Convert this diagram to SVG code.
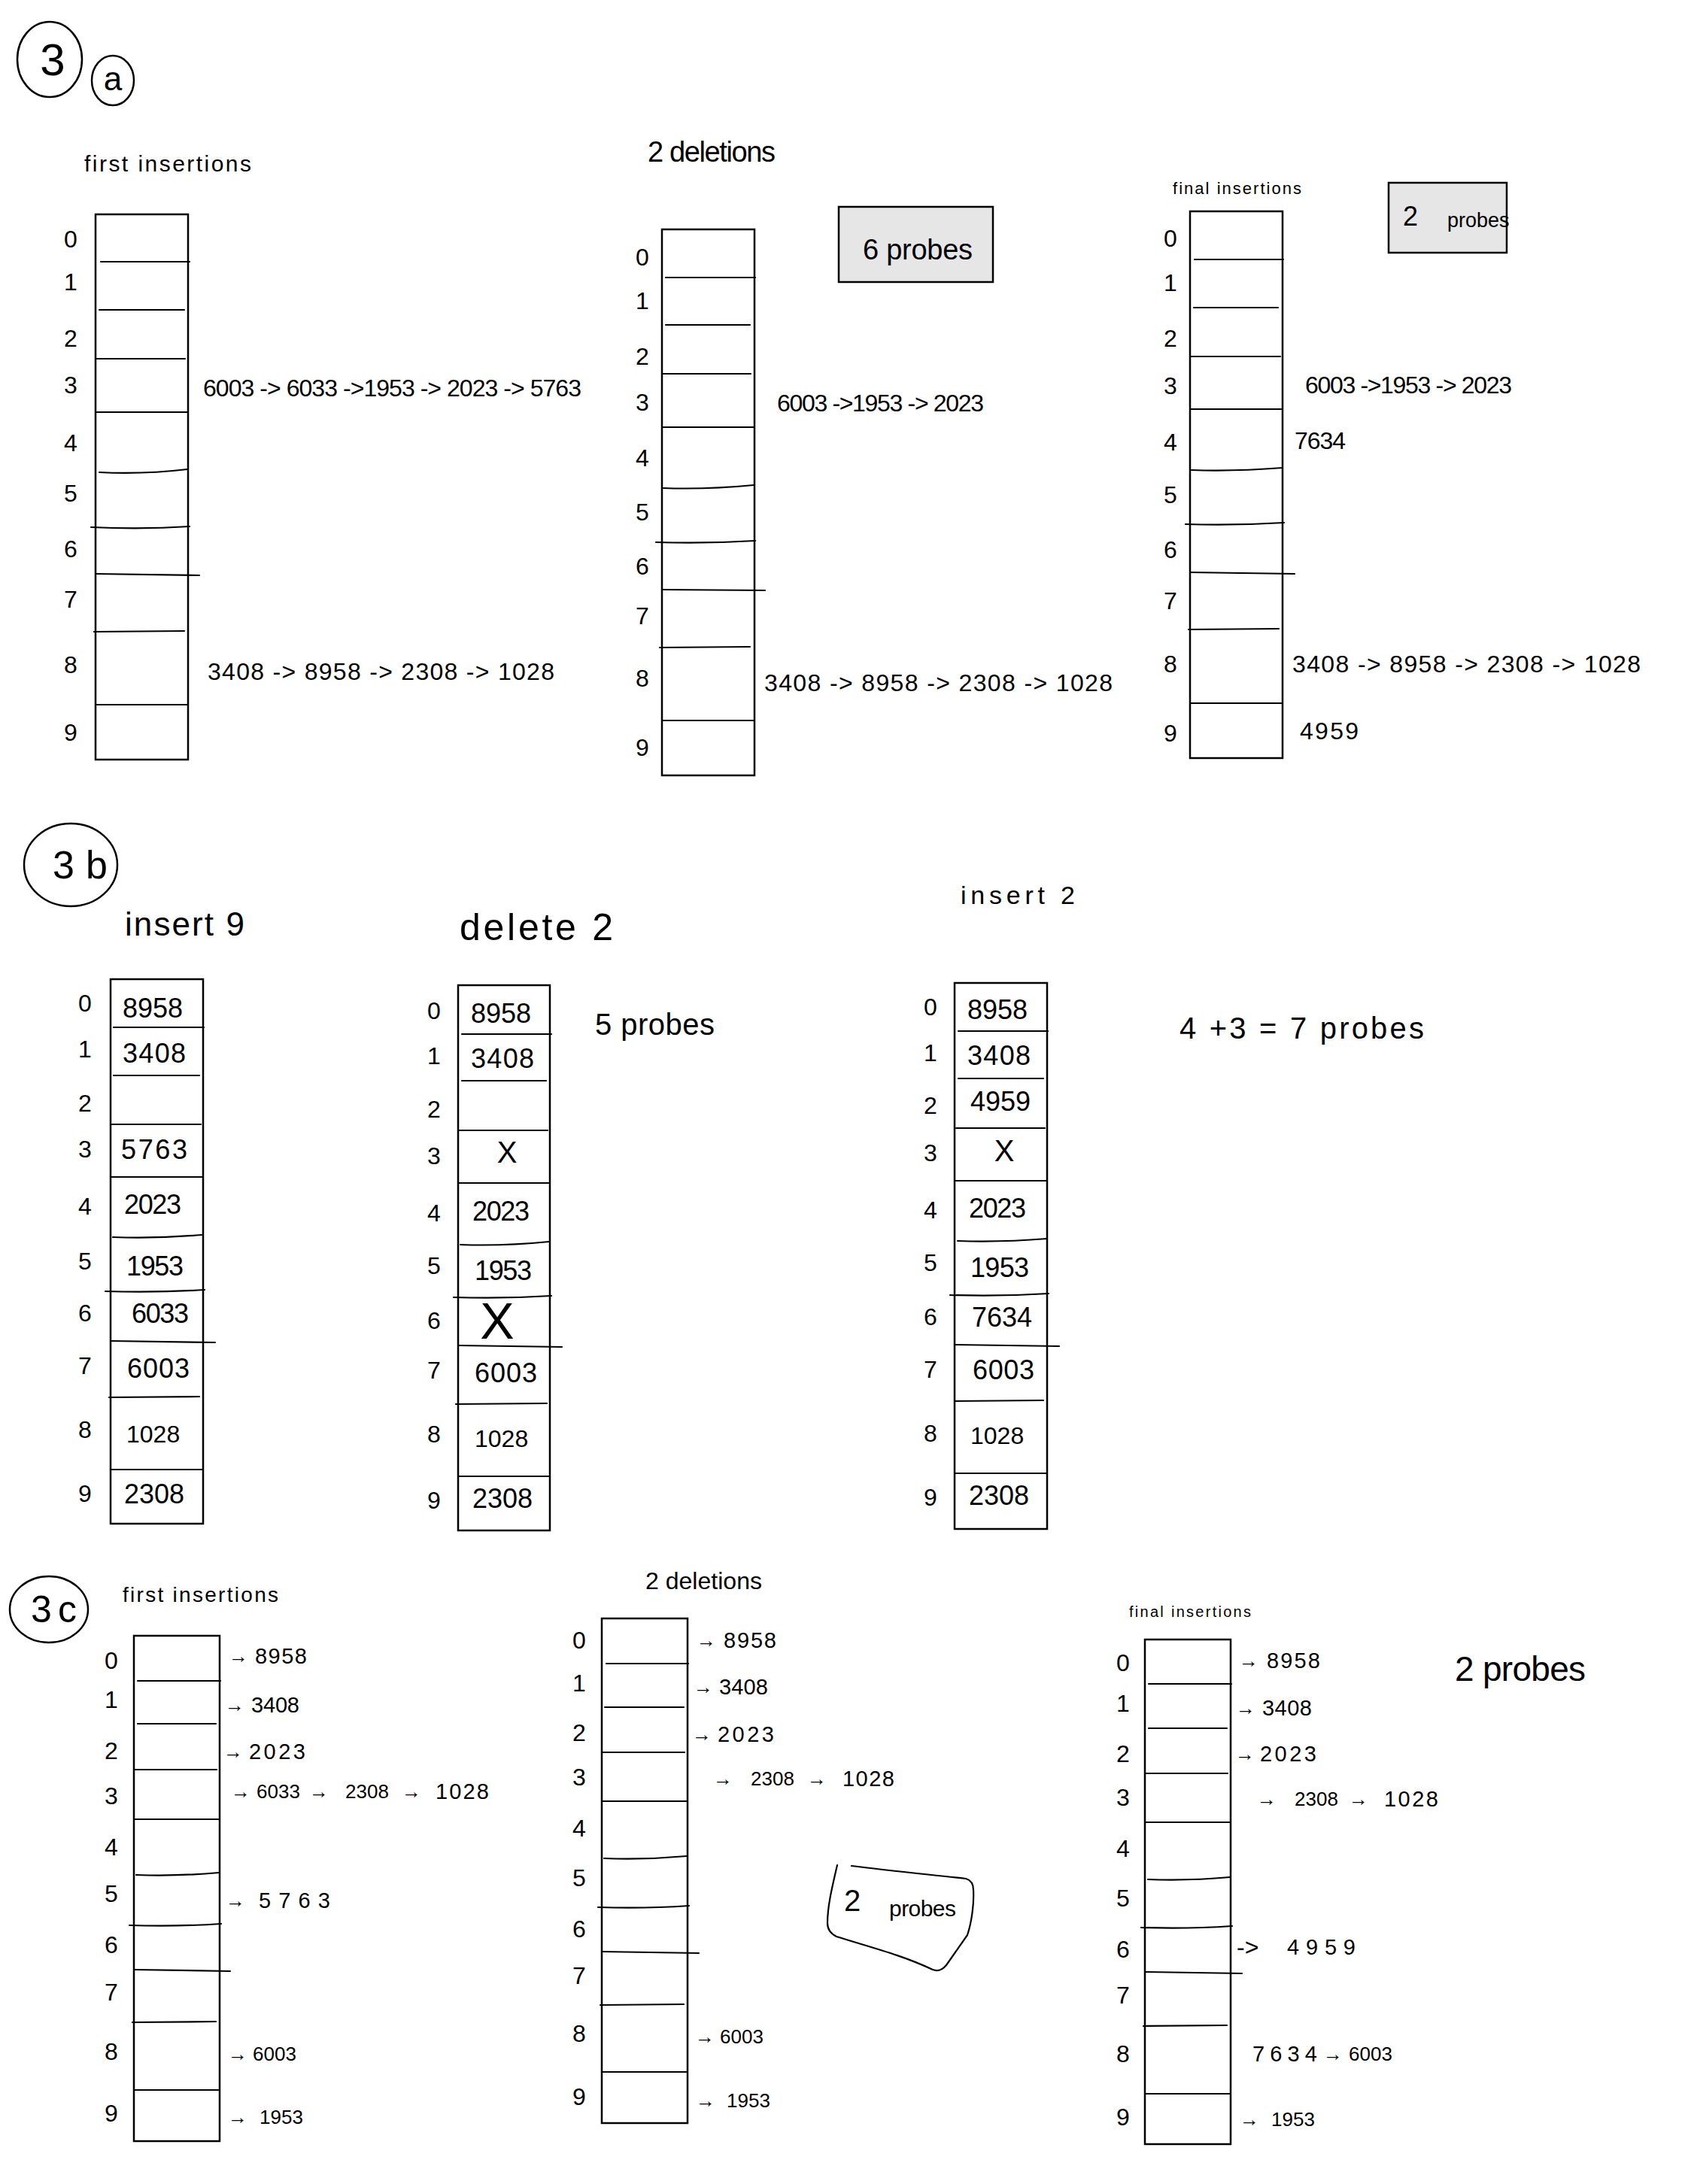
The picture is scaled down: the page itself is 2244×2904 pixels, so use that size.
<svg xmlns="http://www.w3.org/2000/svg" width="2244" height="2904" viewBox="0 0 2244 2904">
<style>
text { font-family: "Liberation Sans", Arial, sans-serif; fill: #000; }
.i { font-size: 32px; text-anchor: middle; dominant-baseline: central; }
.v { font-size: 36px; dominant-baseline: central; }
.c { font-size: 32px; dominant-baseline: central; }
.x { font-size: 40px; text-anchor: middle; dominant-baseline: central; }
.ar { font-size: 26px; text-anchor: middle; dominant-baseline: central; }
.n { font-size: 29px; dominant-baseline: central; }
.ns { font-size: 26px; dominant-baseline: central; }
.tb { fill: none; stroke: #000; stroke-width: 2.5; }
.l { fill: none; stroke: #000; stroke-width: 2.2; stroke-linecap: round; }
.box { fill: #e6e6e6; stroke: #000; stroke-width: 2.5; }
.circ { fill: none; stroke: #000; stroke-width: 2.5; }
</style>
<rect x="0" y="0" width="2244" height="2904" fill="#fff"/>

<!-- ===== Section 3a ===== -->
<g id="label-3a">
  <ellipse class="circ" cx="66" cy="79" rx="43" ry="50"/>
  <text x="70" y="79" font-size="60" text-anchor="middle" dominant-baseline="central">3</text>
  <ellipse class="circ" cx="150" cy="107" rx="28" ry="33"/>
  <text x="150" y="104" font-size="44" text-anchor="middle" dominant-baseline="central">a</text>
</g>

<g id="a1">
  <text x="112" y="228" font-size="30" textLength="222">first insertions</text>
  <rect class="tb" x="127" y="285" width="123" height="725"/>
  <path class="l" d="M134 348H252M132 412H245M128 477H246M127 548H250M132 628Q190 631 249 624M121 701Q190 704 252 700M128 763L265 765M125 840L245 839M127 937H250"/>
  <text class="i" x="94" y="318">0</text><text class="i" x="94" y="375">1</text><text class="i" x="94" y="450">2</text><text class="i" x="94" y="512">3</text><text class="i" x="94" y="589">4</text><text class="i" x="94" y="656">5</text><text class="i" x="94" y="730">6</text><text class="i" x="94" y="797">7</text><text class="i" x="94" y="884">8</text><text class="i" x="94" y="974">9</text>
  <text class="c" x="270" y="516" textLength="503">6003 -&gt; 6033 -&gt;1953 -&gt; 2023 -&gt; 5763</text>
  <text class="c" x="276" y="893" textLength="461">3408 -&gt; 8958 -&gt; 2308 -&gt; 1028</text>
</g>

<g id="a2">
  <text x="861" y="215" font-size="38" textLength="170">2 deletions</text>
  <rect class="tb" x="880" y="305" width="123" height="726"/>
  <path class="l" d="M885 369H1004M885 432H997M880 497H998M880 568H1003M882 649Q940 651 1002 645M872 721Q940 723 1004 719M880 784L1017 785M877 861L997 860M880 958H1003"/>
  <text class="i" x="854" y="342">0</text><text class="i" x="854" y="400">1</text><text class="i" x="854" y="474">2</text><text class="i" x="854" y="535">3</text><text class="i" x="854" y="609">4</text><text class="i" x="854" y="681">5</text><text class="i" x="854" y="753">6</text><text class="i" x="854" y="819">7</text><text class="i" x="854" y="902">8</text><text class="i" x="854" y="994">9</text>
  <text class="c" x="1033" y="536" textLength="275">6003 -&gt;1953 -&gt; 2023</text>
  <text class="c" x="1016" y="908" textLength="463">3408 -&gt; 8958 -&gt; 2308 -&gt; 1028</text>
</g>
<g id="a2-probes">
  <rect class="box" x="1115" y="275" width="205" height="100"/>
  <text x="1147" y="332" font-size="38" dominant-baseline="central" textLength="146">6 probes</text>
</g>

<g id="a3">
  <text x="1559" y="258" font-size="22" textLength="171">final insertions</text>
  <rect class="tb" x="1582" y="281" width="123" height="727"/>
  <path class="l" d="M1588 345H1706M1587 409H1699M1583 474H1702M1582 544H1705M1584 625Q1640 627 1705 622M1576 697Q1640 699 1707 695M1583 761L1721 763M1580 837L1700 836M1582 935H1705"/>
  <text class="i" x="1556" y="317">0</text><text class="i" x="1556" y="376">1</text><text class="i" x="1556" y="450">2</text><text class="i" x="1556" y="513">3</text><text class="i" x="1556" y="588">4</text><text class="i" x="1556" y="658">5</text><text class="i" x="1556" y="731">6</text><text class="i" x="1556" y="799">7</text><text class="i" x="1556" y="883">8</text><text class="i" x="1556" y="975">9</text>
  <text class="c" x="1735" y="512" textLength="275">6003 -&gt;1953 -&gt; 2023</text>
  <text class="c" x="1721" y="586" textLength="68">7634</text>
  <text class="c" x="1718" y="883" textLength="463">3408 -&gt; 8958 -&gt; 2308 -&gt; 1028</text>
  <text class="c" x="1728" y="972" textLength="78">4959</text>
</g>
<g id="a3-probes">
  <rect class="box" x="1846" y="243" width="157" height="93"/>
  <text x="1875" y="287" font-size="36" text-anchor="middle" dominant-baseline="central">2</text>
  <text x="1924" y="293" font-size="27" dominant-baseline="central">probes</text>
</g>

<!-- ===== Section 3b ===== -->
<g id="label-3b">
  <ellipse class="circ" cx="94" cy="1150" rx="62" ry="55"/>
  <text x="70" y="1150" font-size="52" dominant-baseline="central" textLength="73">3b</text>
</g>

<g id="b1">
  <text x="166" y="1244" font-size="44" textLength="159">insert 9</text>
  <rect class="tb" x="147" y="1302" width="123" height="724"/>
  <path class="l" d="M151 1366H271M151 1430H265M147 1495H267M147 1565H270M150 1645Q210 1647 268 1642M140 1717Q210 1719 272 1715M147 1783L286 1785M145 1858L265 1857M147 1954H270"/>
  <text class="i" x="113" y="1334">0</text><text class="i" x="113" y="1395">1</text><text class="i" x="113" y="1467">2</text><text class="i" x="113" y="1528">3</text><text class="i" x="113" y="1604">4</text><text class="i" x="113" y="1677">5</text><text class="i" x="113" y="1746">6</text><text class="i" x="113" y="1816">7</text><text class="i" x="113" y="1901">8</text><text class="i" x="113" y="1986">9</text>
  <text class="v" x="163" y="1340" textLength="80">8958</text>
  <text class="v" x="163" y="1400" textLength="84">3408</text>
  <text class="v" x="161" y="1528" textLength="88">5763</text>
  <text class="v" x="165" y="1601" textLength="76">2023</text>
  <text class="v" x="168" y="1683" textLength="76">1953</text>
  <text class="v" x="175" y="1746" textLength="76">6033</text>
  <text class="v" x="169" y="1819" textLength="83">6003</text>
  <text x="168" y="1907" font-size="32" dominant-baseline="central">1028</text>
  <text class="v" x="165" y="1986" textLength="80">2308</text>
</g>

<g id="b2">
  <text x="611" y="1250" font-size="50" textLength="204">delete 2</text>
  <rect class="tb" x="609" y="1310" width="122" height="725"/>
  <path class="l" d="M614 1375H733M614 1437H726M609 1503H728M609 1573H731M612 1655Q670 1657 730 1651M603 1725Q670 1727 733 1723M609 1789L747 1791M606 1867L727 1866M609 1963H731"/>
  <text class="i" x="577" y="1344">0</text><text class="i" x="577" y="1404">1</text><text class="i" x="577" y="1475">2</text><text class="i" x="577" y="1537">3</text><text class="i" x="577" y="1613">4</text><text class="i" x="577" y="1683">5</text><text class="i" x="577" y="1756">6</text><text class="i" x="577" y="1822">7</text><text class="i" x="577" y="1907">8</text><text class="i" x="577" y="1995">9</text>
  <text class="v" x="626" y="1347" textLength="80">8958</text>
  <text class="v" x="626" y="1407" textLength="84">3408</text>
  <text class="x" x="674" y="1532">X</text>
  <text class="v" x="628" y="1610" textLength="76">2023</text>
  <text class="v" x="631" y="1689" textLength="76">1953</text>
  <text x="661" y="1756" font-size="68" text-anchor="middle" dominant-baseline="central">X</text>
  <text class="v" x="631" y="1825" textLength="83">6003</text>
  <text x="631" y="1913" font-size="32" dominant-baseline="central">1028</text>
  <text class="v" x="628" y="1992" textLength="80">2308</text>
</g>
<g id="b2-probes">
  <text x="791" y="1362" font-size="40" dominant-baseline="central" textLength="159">5 probes</text>
</g>

<g id="b3">
  <text x="1277" y="1202" font-size="34" textLength="152">insert 2</text>
  <rect class="tb" x="1269" y="1307" width="123" height="726"/>
  <path class="l" d="M1274 1371H1393M1274 1434H1387M1271 1500H1389M1269 1570H1392M1273 1650Q1330 1652 1392 1647M1263 1722Q1330 1724 1394 1720M1269 1788L1408 1790M1269 1863L1387 1862M1269 1959H1392"/>
  <text class="i" x="1237" y="1339">0</text><text class="i" x="1237" y="1400">1</text><text class="i" x="1237" y="1470">2</text><text class="i" x="1237" y="1533">3</text><text class="i" x="1237" y="1609">4</text><text class="i" x="1237" y="1679">5</text><text class="i" x="1237" y="1751">6</text><text class="i" x="1237" y="1821">7</text><text class="i" x="1237" y="1906">8</text><text class="i" x="1237" y="1991">9</text>
  <text class="v" x="1286" y="1342" textLength="80">8958</text>
  <text class="v" x="1286" y="1403" textLength="84">3408</text>
  <text class="v" x="1290" y="1464" textLength="80">4959</text>
  <text class="x" x="1335" y="1530">X</text>
  <text class="v" x="1288" y="1606" textLength="76">2023</text>
  <text class="v" x="1290" y="1685" textLength="78">1953</text>
  <text class="v" x="1292" y="1751" textLength="80">7634</text>
  <text class="v" x="1293" y="1821" textLength="82">6003</text>
  <text x="1290" y="1909" font-size="32" dominant-baseline="central">1028</text>
  <text class="v" x="1288" y="1988" textLength="80">2308</text>
</g>
<g id="b3-probes">
  <text x="1568" y="1367" font-size="40" dominant-baseline="central" textLength="325">4 +3 = 7 probes</text>
</g>

<!-- ===== Section 3c ===== -->
<g id="label-3c">
  <ellipse class="circ" cx="65" cy="2140" rx="52" ry="44"/>
  <text x="41" y="2140" font-size="50" dominant-baseline="central" textLength="61">3c</text>
</g>

<g id="c1">
  <text x="163" y="2130" font-size="28" textLength="207">first insertions</text>
  <rect class="tb" x="178" y="2175" width="114" height="672"/>
  <path class="l" d="M183 2235H293M183 2292H287M179 2353H288M178 2419H292M181 2493Q235 2495 291 2490M172 2560Q235 2562 294 2558M179 2619L306 2621M176 2689L287 2688M178 2779H292"/>
  <text class="i" x="148" y="2208">0</text><text class="i" x="148" y="2260">1</text><text class="i" x="148" y="2328">2</text><text class="i" x="148" y="2388">3</text><text class="i" x="148" y="2456">4</text><text class="i" x="148" y="2518">5</text><text class="i" x="148" y="2586">6</text><text class="i" x="148" y="2649">7</text><text class="i" x="148" y="2728">8</text><text class="i" x="148" y="2810">9</text>
  <text class="ar" x="317" y="2202">→</text><text class="n" x="339" y="2202" textLength="69">8958</text>
  <text class="ar" x="312" y="2267">→</text><text class="n" x="334" y="2267" textLength="64">3408</text>
  <text class="ar" x="310" y="2329">→</text><text class="n" x="331" y="2329" textLength="75">2023</text>
  <text class="ar" x="320" y="2382">→</text><text class="ns" x="341" y="2382">6033</text>
  <text class="ar" x="424" y="2382">→</text><text class="ns" x="459" y="2382">2308</text>
  <text class="ar" x="547" y="2382">→</text><text class="n" x="579" y="2382" textLength="71">1028</text>
  <text class="ar" x="313" y="2527">→</text><text class="n" x="344" y="2527" textLength="95">5763</text>
  <text class="ar" x="316" y="2731">→</text><text class="ns" x="336" y="2731">6003</text>
  <text class="ar" x="316" y="2815">→</text><text class="ns" x="345" y="2815">1953</text>
</g>

<g id="c2">
  <text x="858" y="2113" font-size="32" textLength="155">2 deletions</text>
  <rect class="tb" x="800" y="2152" width="114" height="671"/>
  <path class="l" d="M806 2212H915M804 2270H909M800 2330H910M800 2395H914M803 2471Q858 2473 913 2468M795 2536Q858 2538 916 2534M800 2595L929 2597M798 2666L909 2665M800 2755H914"/>
  <text class="i" x="770" y="2181">0</text><text class="i" x="770" y="2238">1</text><text class="i" x="770" y="2304">2</text><text class="i" x="770" y="2363">3</text><text class="i" x="770" y="2431">4</text><text class="i" x="770" y="2497">5</text><text class="i" x="770" y="2565">6</text><text class="i" x="770" y="2627">7</text><text class="i" x="770" y="2704">8</text><text class="i" x="770" y="2788">9</text>
  <text class="ar" x="939" y="2181">→</text><text class="n" x="962" y="2181" textLength="70">8958</text>
  <text class="ar" x="935" y="2243">→</text><text class="n" x="956" y="2243" textLength="65">3408</text>
  <text class="ar" x="933" y="2306">→</text><text class="n" x="954" y="2306" textLength="75">2023</text>
  <text class="ar" x="961" y="2365">→</text><text class="ns" x="998" y="2365">2308</text>
  <text class="ar" x="1086" y="2365">→</text><text class="n" x="1120" y="2365" textLength="69">1028</text>
  <text class="ar" x="937" y="2708">→</text><text class="ns" x="957" y="2708">6003</text>
  <text class="ar" x="938" y="2793">→</text><text class="ns" x="966" y="2793">1953</text>
</g>
<g id="c2-probes">
  <path class="l" d="M1113 2480C1106 2510 1100 2535 1100 2557C1100 2566 1104 2571 1112 2575C1160 2590 1200 2600 1240 2619C1248 2622 1253 2619 1258 2613L1286 2573C1292 2555 1295 2530 1294 2513C1294 2505 1291 2500 1284 2498C1230 2492 1180 2487 1132 2481"/>
  <text x="1133" y="2527" font-size="40" text-anchor="middle" dominant-baseline="central">2</text>
  <text x="1182" y="2537" font-size="30" dominant-baseline="central" textLength="89">probes</text>
</g>

<g id="c3">
  <text x="1501" y="2150" font-size="20" textLength="162">final insertions</text>
  <rect class="tb" x="1522" y="2180" width="114" height="671"/>
  <path class="l" d="M1527 2239H1637M1527 2298H1631M1523 2358H1632M1522 2423H1636M1526 2499Q1580 2501 1635 2496M1517 2563Q1580 2565 1638 2561M1523 2622L1651 2624M1520 2694L1631 2693M1522 2784H1636"/>
  <text class="i" x="1493" y="2211">0</text><text class="i" x="1493" y="2265">1</text><text class="i" x="1493" y="2332">2</text><text class="i" x="1493" y="2390">3</text><text class="i" x="1493" y="2458">4</text><text class="i" x="1493" y="2524">5</text><text class="i" x="1493" y="2592">6</text><text class="i" x="1493" y="2653">7</text><text class="i" x="1493" y="2731">8</text><text class="i" x="1493" y="2815">9</text>
  <text class="ar" x="1660" y="2208">→</text><text class="n" x="1684" y="2208" textLength="71">8958</text>
  <text class="ar" x="1656" y="2271">→</text><text class="n" x="1678" y="2271" textLength="66">3408</text>
  <text class="ar" x="1655" y="2332">→</text><text class="n" x="1675" y="2332" textLength="75">2023</text>
  <text class="ar" x="1684" y="2392">→</text><text class="ns" x="1721" y="2392">2308</text>
  <text class="ar" x="1806" y="2392">→</text><text class="n" x="1840" y="2392" textLength="72">1028</text>
  <text class="c" x="1644" y="2589">-&gt;</text><text class="n" x="1711" y="2589" font-size="34" textLength="91">4959</text>
  <text class="n" x="1665" y="2731" textLength="86">7634</text><text class="ar" x="1772" y="2731">→</text><text class="ns" x="1793" y="2731">6003</text>
  <text class="ar" x="1661" y="2818">→</text><text class="ns" x="1690" y="2818">1953</text>
</g>
<g id="c3-probes">
  <text x="1934" y="2219" font-size="46" dominant-baseline="central" textLength="174">2 probes</text>
</g>
</svg>
